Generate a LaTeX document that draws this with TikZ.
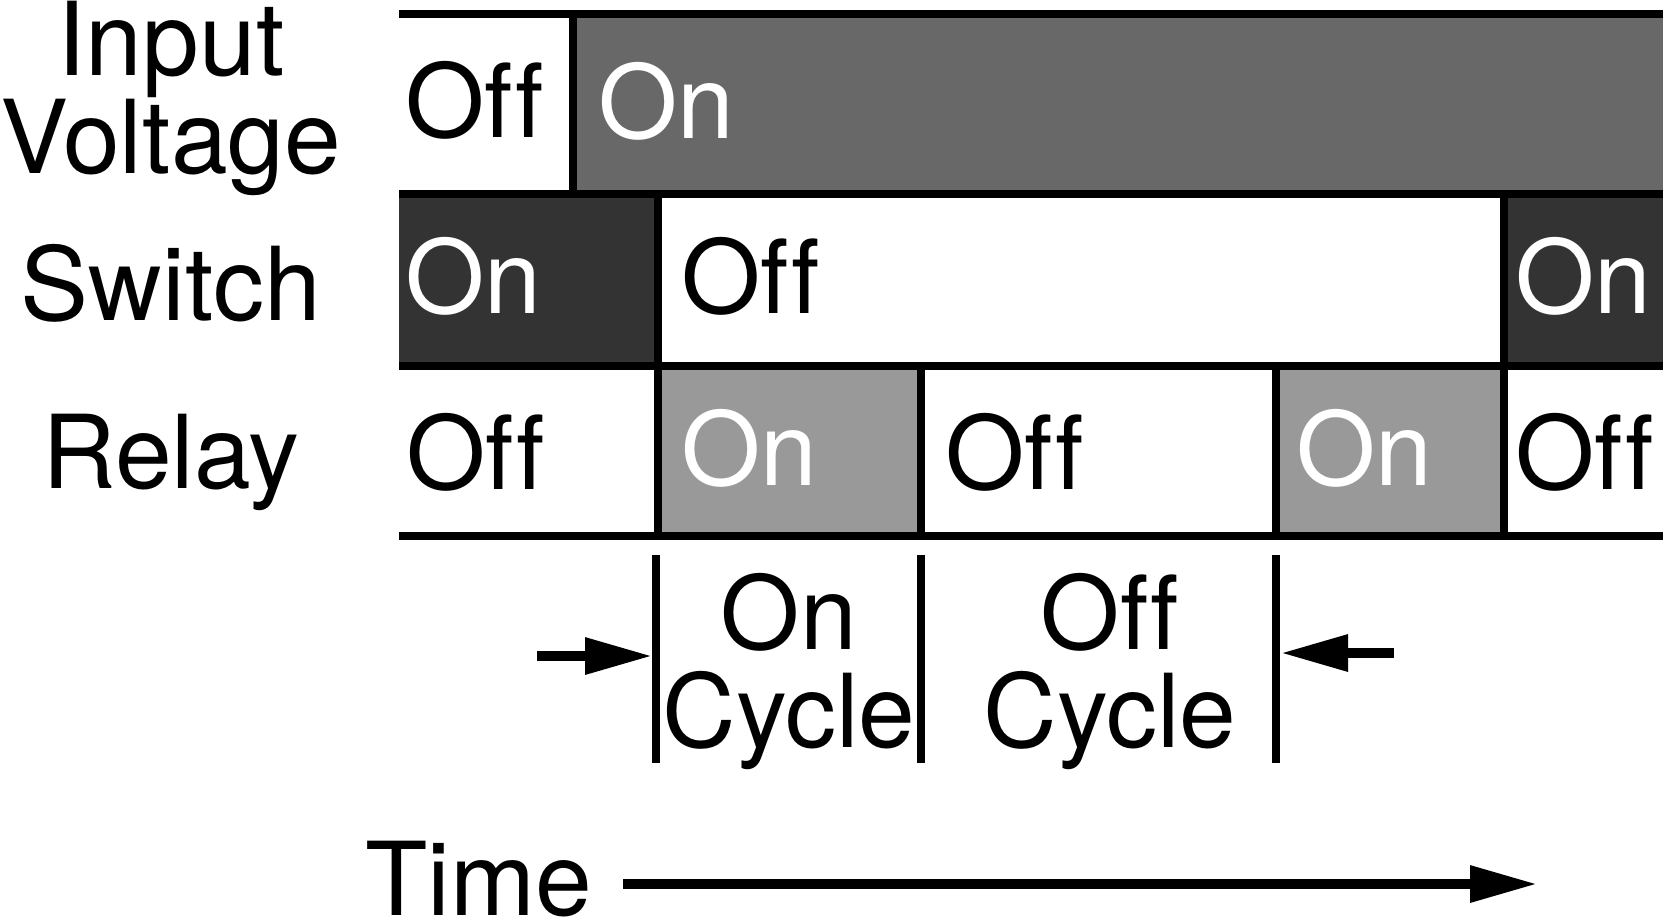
\documentclass[tikz,border=0pt]{standalone}
\usepackage{fontspec}
\setmainfont{TeX Gyre Heros}[Ligatures=NoCommon]
\usetikzlibrary{arrows.meta}
\definecolor{inputgray}{HTML}{686868}
\definecolor{switchgray}{HTML}{333333}
\definecolor{relaygray}{HTML}{999999}
\tikzset{
	lbl/.style={inner sep=0pt, font=\fontsize{51pt}{49pt}\selectfont},
	state/.style={lbl, anchor=base west},
	rule/.style={line width=4pt},
	arr/.style={line width=4.75pt, -{Triangle[length=33.5pt, width=17.5pt]}}
}
\newcommand{\StateOff}[3][]{\node[state, #1] (#2) at (#3) {Off};}
\newcommand{\StateOn}[3][]{\node[state, white, #1] (#2) at (#3) {On};}

\begin{document}
\begin{tikzpicture}[x=0.5pt, y=-0.5pt]
\useasboundingbox (0,0) rectangle (1663,917);

	\fill[inputgray] (573,14) rectangle (1663,194);
	\fill[switchgray] (399,194) rectangle (658,366);
	\fill[switchgray] (1504,194) rectangle (1663,366);
	\fill[relaygray] (658,366) rectangle (921,536);
	\fill[relaygray] (1276,366) rectangle (1504,536);

	\foreach \y in {14,194,366,536}
		\draw[rule] (399,\y) -- (1663,\y);
	\draw[rule] (573,14) -- (573,194);
	\foreach \x in {658,1504}
		\draw[rule] (\x,194) -- (\x,366);
	\foreach \x in {658,921,1276,1504}
		\draw[rule] (\x,366) -- (\x,536);

	\node[lbl, align=center] (vin) at (171,98) {Input\\Voltage};
	\node[lbl, anchor=base] (sw) at (171,320) {Switch};
	\node[lbl, anchor=base] (rl) at (171,488) {Relay};

	\StateOff{vinoff}{405,137}
	\StateOn{vinon}{598,138}
	\StateOn{swon}{405,313}
	\StateOff{swoff}{681,313}
	\StateOn{swonb}{1515,313}
	\StateOff{rloff}{406,489}
	\StateOn{rlon}{681,485}
	\StateOff{rloffb}{945,489}
	\StateOn{rlonb}{1296,485}
	\StateOff{rloffc}{1515,489}

	\foreach \x/\n in {656/a,921/b,1276/c}{
		\coordinate (top\n) at (\x,555);
		\coordinate (bot\n) at (\x,763);
		\draw[rule] (top\n) -- (bot\n);
	}

	\node[lbl, align=center] (oncyc) at (789,671.5) {On\\Cycle};
	\node[lbl, align=center] (offcyc) at (1110,671.5) {Off\\Cycle};

	\coordinate (onfrom) at (537,656);
	\coordinate (onto) at (652,656);
	\coordinate (offfrom) at (1394,653);
	\coordinate (offto) at (1281,653);
	\draw[arr] (onfrom) -- (onto);
	\draw[arr] (offfrom) -- (offto);

	\node[lbl, anchor=base west] (time) at (365,915.5) {Time};
	\coordinate (tfrom) at (623,884);
	\coordinate (tto) at (1537,884);
	\draw[arr] (tfrom) -- (tto);

\end{tikzpicture}
\end{document}
